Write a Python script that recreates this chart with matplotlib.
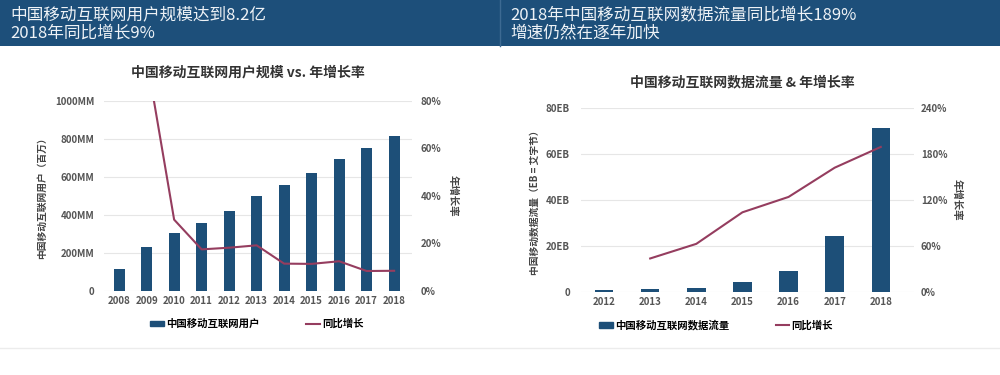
import matplotlib
matplotlib.use("Agg")
import matplotlib.pyplot as plt
from matplotlib.patches import Rectangle
from matplotlib.lines import Line2D

plt.rcParams['font.family'] = ['Noto Sans CJK SC', 'DejaVu Sans']

# data
user_years = ['2008', '2009', '2010', '2011', '2012', '2013', '2014', '2015', '2016', '2017', '2018']
users_mm = [118, 233, 303, 356, 420, 500, 557, 620, 695, 753, 817]
user_growth_years = ['2009', '2010', '2011', '2012', '2013', '2014', '2015', '2016', '2017', '2018']
user_growth = [98, 30, 17.5, 18.2, 19.2, 11.5, 11.4, 12.5, 8.4, 8.5]

data_years = ['2012', '2013', '2014', '2015', '2016', '2017', '2018']
data_eb = [1.0, 1.3, 2.0, 4.3, 9.4, 24.5, 71.0]
data_growth_years = ['2013', '2014', '2015', '2016', '2017', '2018']
data_growth = [44, 63, 104, 124, 162, 189]

header_left = "中国移动互联网用户规模达到8.2亿\n2018年同比增长9%"
header_right = "2018年中国移动互联网数据流量同比增长189%\n增速仍然在逐年加快"

bar_col = '#1d4f78'
line_col = '#953d5f'
band_col = '#1d4f7a'
tick_col = '#555555'

fig = plt.figure(figsize=(10, 3.75), dpi=100)
fig.patch.set_facecolor('white')

# header band
fig.patches.append(Rectangle((0, 1 - 46/375), 1, 46/375, transform=fig.transFigure,
                             facecolor=band_col, edgecolor='none', zorder=0))
fig.add_artist(Line2D([0.4995, 0.4995], [1 - 46/375, 1], transform=fig.transFigure,
                      color='#3d6a92', lw=1))
fig.add_artist(Line2D([0, 1], [1 - 348/375, 1 - 348/375], transform=fig.transFigure,
                      color='#ececec', lw=1))
fig.text(0.010, 1 - 24/375, header_left, color='#eef2f6', fontsize=12,
         va='center', ha='left', linespacing=1.05)
fig.text(0.510, 1 - 24/375, header_right, color='#eef2f6', fontsize=12,
         va='center', ha='left', linespacing=1.05)


def style_axes(ax, ax2):
    for a in (ax, ax2):
        for s in a.spines.values():
            s.set_visible(False)
        a.tick_params(length=0, labelsize=7, colors=tick_col)
        for lab in a.get_xticklabels() + a.get_yticklabels():
            lab.set_fontweight('bold')
    ax.grid(axis='y', color='#e6e6e6', lw=0.8)
    ax.set_axisbelow(True)


# left chart
ax = fig.add_axes([0.104, 0.224, 0.308, 0.5075])
x = list(range(len(user_years)))
ax.bar(x, users_mm, width=0.4, color=bar_col, zorder=2)
ax.set_xlim(-0.55, len(user_years) - 0.35)
ax.set_ylim(0, 1000)
ax.set_yticks([0, 200, 400, 600, 800, 1000])
ax.set_yticklabels(['0', '200MM', '400MM', '600MM', '800MM', '1000MM'])
ax.set_xticks(x)
ax.set_xticklabels(user_years)
ax2 = ax.twinx()
gx = [user_years.index(y) for y in user_growth_years]
ax2.plot(gx, user_growth, color=line_col, lw=1.5, zorder=3)
ax2.set_ylim(0, 80)
ax2.set_yticks([0, 20, 40, 60, 80])
ax2.set_yticklabels(['0%', '20%', '40%', '60%', '80%'])
style_axes(ax, ax2)
ax.tick_params(axis='y', pad=7)
ax2.tick_params(axis='y', pad=6)
ax.set_ylabel('中国移动互联网用户（百万）', fontsize=7, fontweight='bold', color='#444444', labelpad=6)
ax2.set_ylabel('年增长率', fontsize=7.5, fontweight='bold', color='#444444', rotation=270, labelpad=12)
fig.text(0.248, 1 - 73/375, '中国移动互联网用户规模 vs. 年增长率', fontsize=10,
         fontweight='bold', color='#333333', ha='center', va='center')
fig.legend(handles=[Rectangle((0, 0), 1, 1, color=bar_col),
                    Line2D([0], [0], color=line_col, lw=1.5)],
           labels=['中国移动互联网用户', '同比增长'], loc='center', ncol=2,
           bbox_to_anchor=(0.257, 1 - 324/375), frameon=False,
           handlelength=1.3, handleheight=0.5, handletextpad=0.2, columnspacing=4.5,
           prop={'weight': 'bold', 'size': 7.5})

# right chart
bx = fig.add_axes([0.581, 0.2205, 0.333, 0.4923])
x = list(range(len(data_years)))
bx.bar(x, data_eb, width=0.4, color=bar_col, zorder=2)
bx.set_xlim(-0.5, len(data_years) - 0.28)
bx.set_ylim(0, 80)
bx.set_yticks([0, 20, 40, 60, 80])
bx.set_yticklabels(['0', '20EB', '40EB', '60EB', '80EB'])
bx.set_xticks(x)
bx.set_xticklabels(data_years)
bx2 = bx.twinx()
gx = [data_years.index(y) for y in data_growth_years]
bx2.plot(gx, data_growth, color=line_col, lw=1.5, zorder=3)
bx2.set_ylim(0, 240)
bx2.set_yticks([0, 60, 120, 180, 240])
bx2.set_yticklabels(['0%', '60%', '120%', '180%', '240%'])
style_axes(bx, bx2)
bx.tick_params(axis='y', pad=8)
bx2.tick_params(axis='y', pad=5)
bx.set_ylabel('中国移动数据流量（EB = 艾字节）', fontsize=7, fontweight='bold', color='#444444', labelpad=4)
bx2.set_ylabel('年增长率', fontsize=7.5, fontweight='bold', color='#444444', rotation=270, labelpad=10)
fig.text(0.7425, 1 - 82/375, '中国移动互联网数据流量 & 年增长率', fontsize=10,
         fontweight='bold', color='#333333', ha='center', va='center')
fig.legend(handles=[Rectangle((0, 0), 1, 1, color=bar_col),
                    Line2D([0], [0], color=line_col, lw=1.5)],
           labels=['中国移动互联网数据流量', '同比增长'], loc='center', ncol=2,
           bbox_to_anchor=(0.716, 1 - 325/375), frameon=False,
           handlelength=1.3, handleheight=0.5, handletextpad=0.2, columnspacing=4.5,
           prop={'weight': 'bold', 'size': 7.5})

fig.savefig('out.png', dpi=100, facecolor='white')
